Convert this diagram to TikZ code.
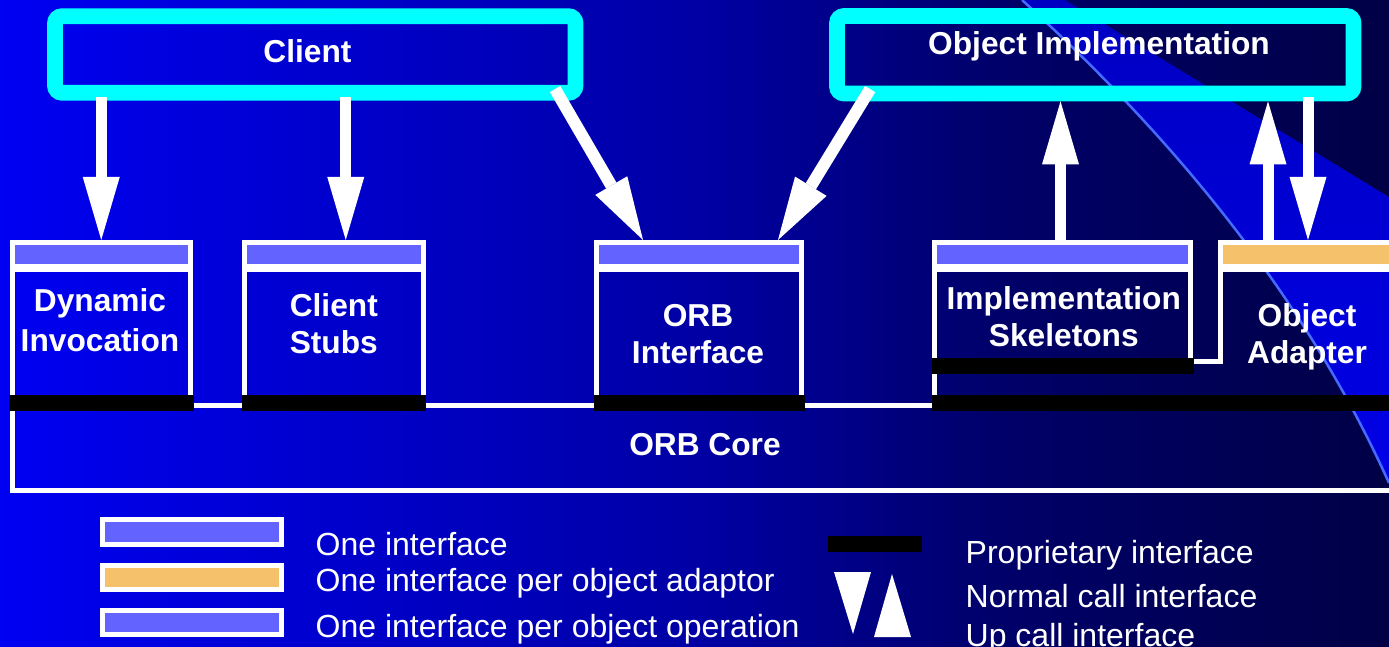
\documentclass[tikz,border=0pt]{standalone}
\usepackage{fontspec}
\setmainfont{Liberation Sans}
\usetikzlibrary{arrows.meta,calc}

\definecolor{cyanframe}{RGB}{0,255,255}
\definecolor{ifpurple}{RGB}{99,99,255}
\definecolor{iforange}{RGB}{245,194,107}
\definecolor{bgA}{RGB}{0,0,242}
\definecolor{bgB}{RGB}{0,0,165}
\definecolor{bgC}{RGB}{0,0,105}
\definecolor{bgD}{RGB}{0,0,70}
\definecolor{bandtop}{RGB}{0,0,195}
\definecolor{bandbot}{RGB}{0,0,230}
\definecolor{arcline}{RGB}{70,105,255}

% slide background: bright blue on the left fading to navy on the right
\pgfdeclarehorizontalshading{slidebg}{100bp}{color(0bp)=(bgA); color(25bp)=(bgA); color(50bp)=(bgB); color(61bp)=(bgC); color(75bp)=(bgD); color(100bp)=(bgD)}

\tikzset{
  frame/.style={draw=cyanframe, line width=15.7pt, rounded corners=7pt, rectangle, inner sep=0pt},
  comp/.style={draw=white, line width=5pt, rectangle, inner sep=0pt, anchor=north west},
  outline/.style={draw=white, line width=5pt},
  lbl/.style={text=white, font=\bfseries\fontsize{31.7}{37}\selectfont, align=center, inner sep=0pt},
  legtext/.style={text=white, font=\fontsize{32}{38}\selectfont, anchor=base west, inner sep=0pt},
  bigarrow/.style={draw=white, line width=11pt, -{Triangle[width=37pt,length=63pt,line width=0pt]}},
  propbar/.style={fill=black},
  keybar/.style={draw=white, line width=5pt},
}

\begin{document}
\begin{tikzpicture}[x=1pt, y=-1pt]
\useasboundingbox (0,0) rectangle (1389,647);
\clip (0,0) rectangle (1389,647);

% background and the light wedge in the upper right
\shade[shading=slidebg] (0,0) rectangle (1389,647);
\fill[top color=bandtop, bottom color=bandbot]
  (1022,0) .. controls (1190.7,153.3) and (1313,314.3) .. (1389,483)
  -- (1389,197) -- (1065,0) -- cycle;
\draw[arcline, line width=2.5pt]
  (1022,0) .. controls (1190.7,153.3) and (1313,314.3) .. (1389,483);

% ORB core
\node[comp, minimum width=1388pt, minimum height=84.5pt] (core) at (9.5,403) {};
\node[lbl] (corelbl) at (705,445) {ORB Core};

% components sitting on the core
\node[comp, minimum width=178.5pt, minimum height=160.5pt] (dyn) at (9.5,240) {};
\node[comp, minimum width=178.5pt, minimum height=160.5pt] (stubs) at (242,240) {};
\node[comp, minimum width=205pt, minimum height=160.5pt] (orbif) at (594,240) {};
\node[comp, minimum width=256pt, minimum height=119.2pt] (skel) at (932,240) {};
\node[comp, draw=none, minimum width=179.5pt, minimum height=119.2pt] (oa) at (1218,240) {};

% interface bands at the top of each component
\foreach \n in {dyn,stubs,orbif,skel} {
  \fill[ifpurple] ($(\n.north west)+(5,5)$) rectangle ($(\n.north east)+(-5,24)$);
  \fill[white] ($(\n.north west)+(5,24)$) rectangle ($(\n.north east)+(-5,32)$);
}
\fill[iforange] ($(oa.north west)+(5,5)$) rectangle ($(oa.north east)+(0,24)$);
\fill[white] ($(oa.north west)+(5,24)$) rectangle ($(oa.north east)+(0,32)$);

% object adapter frame, joined to the skeletons
\draw[outline] ($(oa.north east)+(0,2.5)$) -- ($(oa.north west)+(2.5,2.5)$)
  -- ($(oa.south west)+(2.5,-2.5)$) -- ($(skel.south east)+(-2.5,-2.5)$);
\draw[outline] ($(skel.south west)+(2.5,-2.5)$) -- ($(skel.south west |- core.north)+(2.5,2.5)$);

% proprietary interfaces
\fill[propbar] (9,395) rectangle (194,411);
\fill[propbar] (242,395) rectangle (426,411);
\fill[propbar] (594,395) rectangle (805,411);
\fill[propbar] (932,358) rectangle (1194,374);
\fill[propbar] (932,395) rectangle (1389,411);

% component labels
\node[lbl, font=\bfseries\fontsize{31.7}{40}\selectfont] (dynlbl) at (100,320.4) {Dynamic\\Invocation};
\node[lbl] (stubslbl) at (333.8,323.5) {Client\\Stubs};
\node[lbl] (orbiflbl) at (698,334.1) {ORB\\Interface};
\node[lbl] (skellbl) at (1063.8,317) {Implementation\\Skeletons};
\node[lbl] (oalbl) at (1307,336.4) {Object\\Adapter};

% client and object implementation
\node[frame, minimum width=520.5pt, minimum height=76.6pt] (client) at (315.25,54.5) {};
\node[lbl] (clientlbl) at (307.5,51) {Client};
\node[frame, minimum width=516.5pt, minimum height=77.5pt] (objimpl) at (1095.25,54.75) {};
\node[lbl] (objimpllbl) at (1099,46.8) {Object Implementation};

% calls
\draw[bigarrow] ($(client.south -| dyn.north)+(0,-4)$) -- (dyn.north);
\draw[bigarrow] ($(client.south -| stubs.north)+(12,-4)$) -- ($(stubs.north)+(12,0)$);
\draw[bigarrow, line width=12pt] ($(client.south east)+(-28.3,-11.6)$) -- ($(orbif.north west)+(49,0)$);
\draw[bigarrow, line width=12pt] ($(objimpl.south west)+(41,-12.3)$) -- ($(orbif.north east)+(-26,0)$);
\draw[bigarrow] ($(skel.north)+(-2,0)$) -- ($(skel.north |- objimpl.south)+(-2,0)$);
\draw[bigarrow] ($(oa.north west)+(50,0)$) -- ($(oa.north west |- objimpl.south)+(50,0)$);
\draw[bigarrow] ($(objimpl.south -| oa.north)+(-2.25,-4)$) -- ($(oa.north)+(-2.25,0)$);

% legend
\draw[keybar, fill=ifpurple] (102.5,519.5) rectangle (281.5,544.5);
\draw[keybar, fill=iforange] (102.5,565.5) rectangle (281.5,589.5);
\draw[keybar, fill=ifpurple] (102.5,610.5) rectangle (281.5,634.5);
\node[legtext] (leg1) at (315.5,555) {One interface};
\node[legtext] (leg2) at (315.5,591.5) {One interface per object adaptor};
\node[legtext] (leg3) at (315.5,637) {One interface per object operation};

\fill[propbar] (828,536) rectangle (922,552);
\fill[white] (834,572) -- (871,572) -- (853,634) -- cycle;
\fill[white] (874,637) -- (911,637) -- (892,574) -- cycle;
\node[legtext] (leg4) at (965.5,563) {Proprietary interface};
\node[legtext] (leg5) at (965.5,607) {Normal call interface};
\node[legtext] (leg6) at (965.5,646) {Up call interface};
\end{tikzpicture}
\end{document}
